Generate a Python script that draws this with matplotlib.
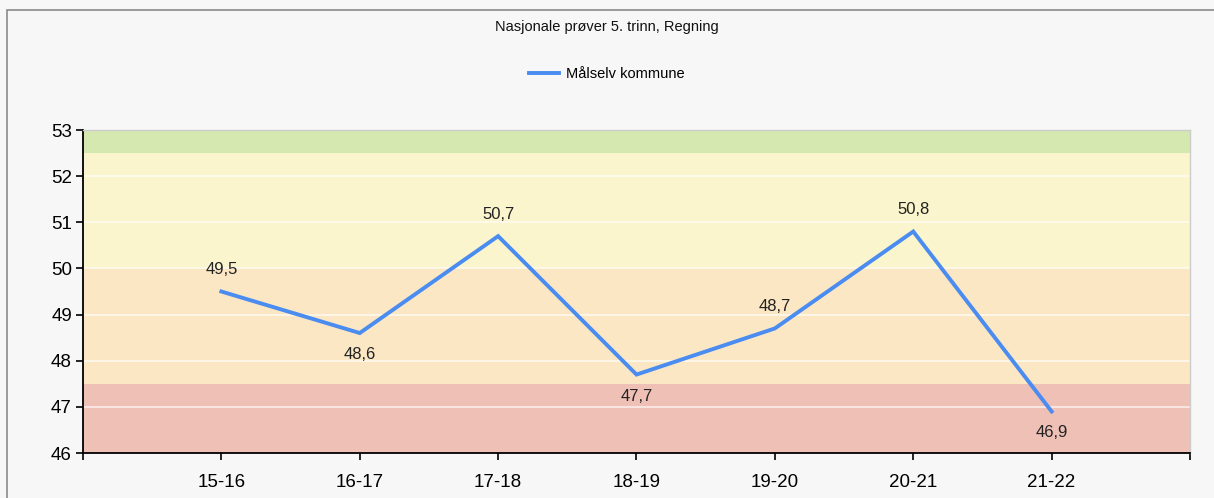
import matplotlib
matplotlib.use("Agg")
from matplotlib import pyplot as plt
from matplotlib.patches import Rectangle

years = ["15-16", "16-17", "17-18", "18-19", "19-20", "20-21", "21-22"]
values = [49.5, 48.6, 50.7, 47.7, 48.7, 50.8, 46.9]
# label above (1) or below (-1) the point
label_side = [1, -1, 1, -1, 1, 1, -1]
# background bands: (low, high, colour)
bands = [(46, 47.5, "#efc0b6"), (47.5, 50, "#fbe7c4"), (50, 52.5, "#faf5cc"), (52.5, 53, "#d4e8b0")]

plt.rcParams['font.family'] = ['Liberation Sans', 'DejaVu Sans']

fig = plt.figure(figsize=(12.14, 4.98), dpi=100, facecolor="#f7f7f7")
frame = Rectangle((7/1214, -0.1), 1.2, 1 - 10/498 + 0.1, transform=fig.transFigure,
                  facecolor="none", edgecolor="#8a8a8a", linewidth=1.2, zorder=-10)
fig.add_artist(frame)
ax = fig.add_axes([83/1214, 1 - 453/498, (1190 - 83)/1214, (453 - 130)/498])
ax.set_facecolor("#f7f7f7")

for lo, hi, c in bands:
	ax.axhspan(lo, hi, color=c, zorder=0, linewidth=0)
for yv in range(47, 53):
	ax.axhline(yv, color="white", linewidth=1.2, alpha=0.7, zorder=1)

xs = list(range(1, len(years) + 1))
line, = ax.plot(xs, values, color="#4a8cf0", linewidth=2.8, zorder=3, solid_joinstyle="miter")
for x, v, s in zip(xs, values, label_side):
	txt = ("%.1f" % v).replace(".", ",")
	ax.annotate(txt, (x, v), xytext=(0, 15.5 * s), textcoords="offset points",
	            ha="center", va="center", fontsize=12, color="#222222", zorder=4)

ax.set_xlim(0, 8)
ax.set_ylim(46, 53)
ax.set_xticks([0] + xs + [8])
ax.set_xticklabels([""] + years + [""], fontsize=13.5)
ax.set_yticks(range(46, 54))
ax.tick_params(axis="y", labelsize=13.5, length=5, width=1.2, pad=3)
ax.tick_params(axis="x", length=5, width=1.2, pad=10)
for sp in ["top", "right"]:
	ax.spines[sp].set_color("#cccccc")
	ax.spines[sp].set_linewidth(1)
for sp in ["left", "bottom"]:
	ax.spines[sp].set_linewidth(1.3)

fig.text(0.5, 1 - 27/498, "Nasjonale prøver 5. trinn, Regning", ha="center", va="center",
         fontsize=10.5, color="#111111")
fig.legend([line], ["Målselv kommune"], loc="center", bbox_to_anchor=(0.5, 1 - 74/498),
           frameon=False, fontsize=10.5, handlelength=2.0, handletextpad=0.5)

plt.savefig("out.png", dpi=100, facecolor=fig.get_facecolor())
